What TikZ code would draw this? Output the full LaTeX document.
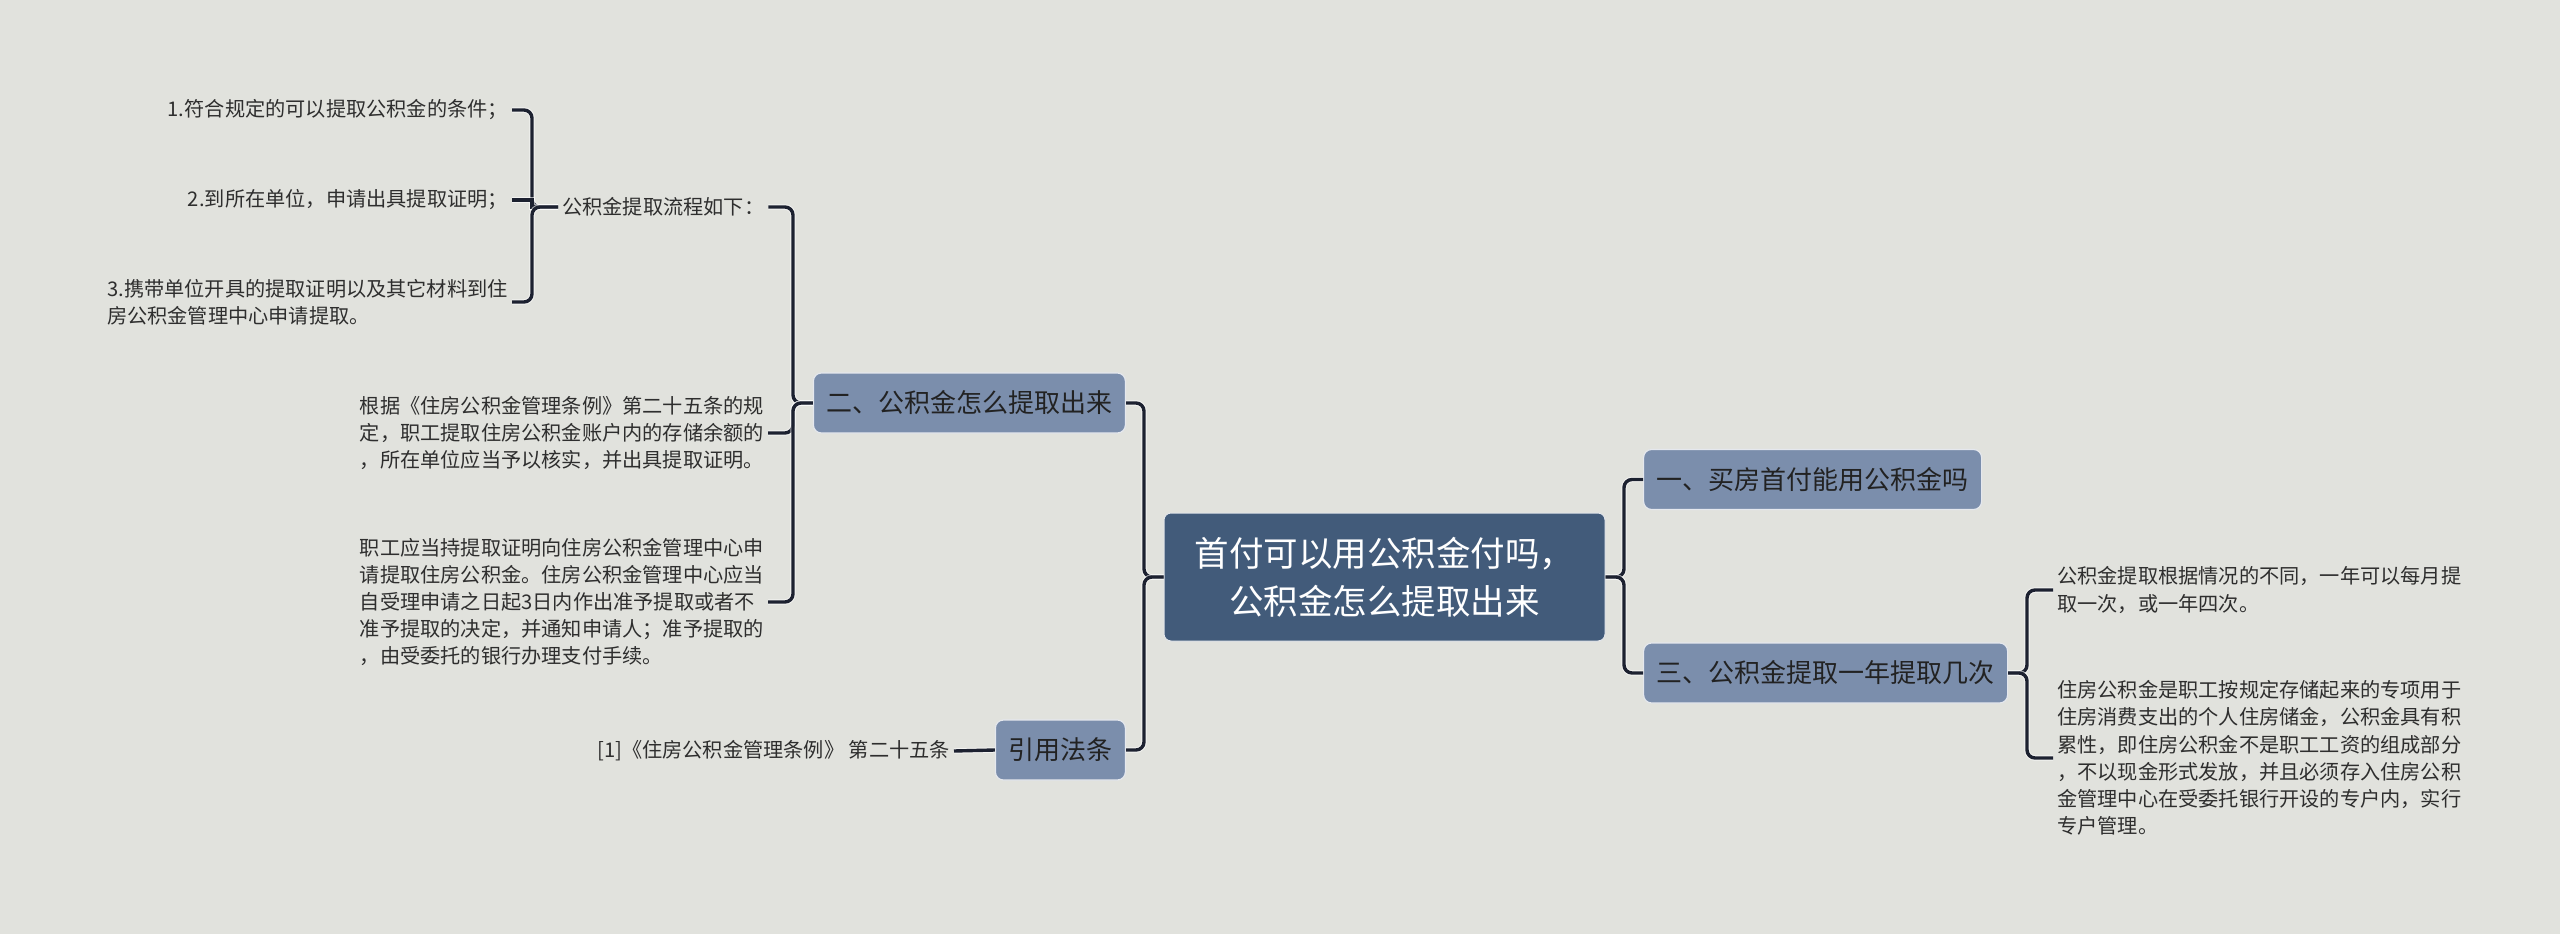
\documentclass[tikz,border=0pt]{standalone}
\usepackage{fontspec}
\setmainfont{Noto Sans CJK SC}
\definecolor{bgc}{HTML}{E1E2DD}
\definecolor{rootc}{HTML}{425B7A}
\definecolor{branchc}{HTML}{7B8EAC}
\definecolor{linec}{HTML}{1C2130}
\definecolor{leaftext}{HTML}{2E2E2E}
\definecolor{branchtext}{HTML}{222222}
\tikzset{
  rootnode/.style={fill=rootc, draw=white!85!rootc, line width=1pt, rounded corners=7pt,
    text=white, align=center, font=\fontsize{34.5}{48}\selectfont,
    minimum width=441pt, minimum height=128pt, inner sep=0pt},
  branchnode/.style={fill=branchc, draw=white!80!branchc, line width=1.2pt, rounded corners=8pt,
    text=branchtext, font=\fontsize{26}{30}\selectfont,
    inner xsep=13pt, inner ysep=0pt, minimum height=60pt},
  leafnode/.style={text=leaftext, font=\fontsize{20.2}{27.2}\selectfont, align=left, inner sep=4pt},
  conn/.style={draw=linec, line width=3.4pt, rounded corners=8pt,
    preaction={draw=white, line width=5.4pt, draw opacity=0.6}},
  connsharp/.style={draw=linec, line width=3.4pt,
    preaction={draw=white, line width=5.4pt, draw opacity=0.6}},
}
\begin{document}
\begin{tikzpicture}[x=1pt,y=-1pt]
\fill[bgc] (0,0) rectangle (2560,934);
\useasboundingbox (0,0) rectangle (2560,934);

% main nodes
\node[rootnode] (root) at (1384.5,577) {首付可以用公积金付吗，\\公积金怎么提取出来};
\node[branchnode, anchor=east] (b2) at (1126,403) {二、公积金怎么提取出来};
\node[branchnode, anchor=east] (bref) at (1126,750) {引用法条};
\node[branchnode, anchor=west] (b1) at (1643,479.5) {一、买房首付能用公积金吗};
\node[branchnode, anchor=west] (b3) at (1643,673) {三、公积金提取一年提取几次};

% left leaves
\node[leafnode, anchor=west] (flow) at (558,207) {公积金提取流程如下：};
\node[leafnode, anchor=east] (s1) at (512,110) {1.符合规定的可以提取公积金的条件；};
\node[leafnode, anchor=east] (s2) at (512,200) {2.到所在单位，申请出具提取证明；};
\node[leafnode, anchor=east] (s3) at (512,302) {3.携带单位开具的提取证明以及其它材料到住\\房公积金管理中心申请提取。};
\node[leafnode, anchor=east] (law1) at (768,433) {根据《住房公积金管理条例》第二十五条的规\\定，职工提取住房公积金账户内的存储余额的\\，所在单位应当予以核实，并出具提取证明。};
\node[leafnode, anchor=east] (law2) at (768,602) {职工应当持提取证明向住房公积金管理中心申\\请提取住房公积金。住房公积金管理中心应当\\自受理申请之日起3日内作出准予提取或者不\\准予提取的决定，并通知申请人；准予提取的\\，由受委托的银行办理支付手续。};
\node[leafnode, anchor=east] (ref) at (954,751) {[1]《住房公积金管理条例》 第二十五条};

% right leaves
\node[leafnode, anchor=west] (r1) at (2053,590) {公积金提取根据情况的不同，一年可以每月提\\取一次，或一年四次。};
\node[leafnode, anchor=west] (r2) at (2053,758) {住房公积金是职工按规定存储起来的专项用于\\住房消费支出的个人住房储金，公积金具有积\\累性，即住房公积金不是职工工资的组成部分\\，不以现金形式发放，并且必须存入住房公积\\金管理中心在受委托银行开设的专户内，实行\\专户管理。};

% connectors
\path[conn] (root.west) -- (1144,577) -- (1144,403) -- (b2.east);
\path[conn] (root.west) -- (1144,577) -- (1144,750) -- (bref.east);
\path[conn] (root.east) -- (1624,577) -- (1624,479.5) -- (b1.west);
\path[conn] (root.east) -- (1624,577) -- (1624,673) -- (b3.west);
\path[conn] (b3.east) -- (2027,673) -- (2027,590) -- (r1.west);
\path[conn] (b3.east) -- (2027,673) -- (2027,758) -- (r2.west);
\path[conn] (b2.west) -- (793,403) -- (793,207) -- (flow.east);
\path[conn] (b2.west) -- (793,403) -- (793,433) -- (law1.east);
\path[conn] (b2.west) -- (793,403) -- (793,602) -- (law2.east);
\path[conn] (flow.west) -- (532,207) -- (532,110) -- (s1.east);
\path[connsharp] (flow.west) -- (532,207) -- (532,200) -- (s2.east);
\path[conn] (flow.west) -- (532,207) -- (532,302) -- (s3.east);
\path[connsharp] (ref.east) -- (bref.west);
\end{tikzpicture}
\end{document}
